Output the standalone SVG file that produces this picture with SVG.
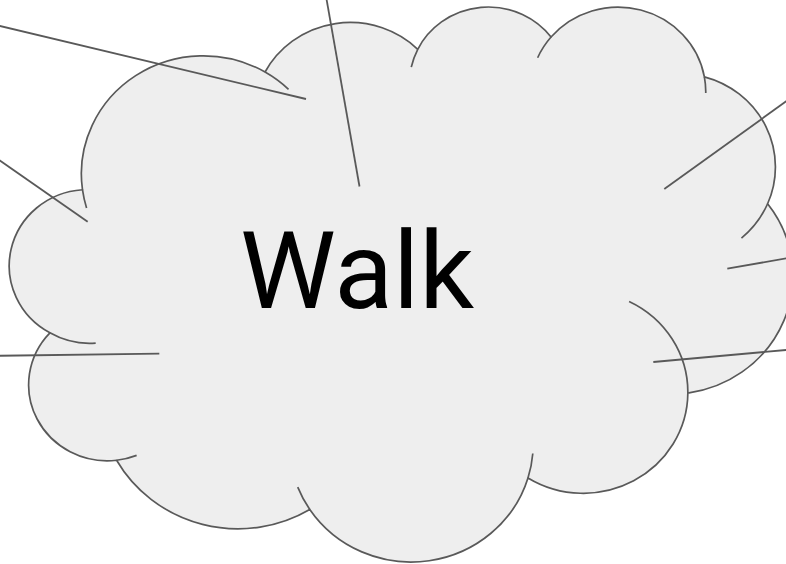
<svg xmlns="http://www.w3.org/2000/svg" width="786" height="564" viewBox="0 0 786 564">
  <style>
    .cloud { fill: #eeeeee; stroke: #595959; stroke-width: 1.7; vector-effect: non-scaling-stroke; stroke-linejoin: round; }
    .inner { fill: none; stroke: #595959; stroke-width: 1.7; vector-effect: non-scaling-stroke; }
    .conn { stroke: #595959; stroke-width: 1.8; fill: none; }
    .label { font-family: Roboto, "Liberation Sans", sans-serif; font-size: 108px; fill: #000000; }
  </style>
  <rect width="786" height="564" fill="#ffffff"/>
  <g id="node-walk">
    <g transform="translate(12,5.2) scale(0.018069,0.012842)">
      <path class="cloud" d="M 3900 14370 A 6753 9190 0 0 1 14005 5202 A 5333 7267 0 0 1 22456 3432 A 4365 5945 0 0 1 29833 2481 A 4857 6595 0 0 1 38318 5576 A 5333 7273 0 0 1 41818 15461 A 6775 9220 0 0 1 37404 30204 A 5785 7867 0 0 1 28556 36814 A 6752 9215 0 0 1 16480 39265 A 7720 10543 0 0 1 5789 35434 A 4360 5918 0 0 1 2098 25512 A 4345 5945 0 0 1 3900 14370 Z"/>
      <path class="inner" d="M 4631 26309 A 4345 5945 0 0 1 2098 25512 M 6897 35053 A 4360 5918 0 0 1 5789 35434 M 16480 39265 A 6752 9215 0 0 1 15813 37525 M 28823 34905 A 6752 9215 0 0 1 28556 36814 M 34153 23069 A 5785 7867 0 0 1 37404 30204 M 41818 15461 A 5333 7273 0 0 1 40371 18136 M 38318 5576 A 4857 6595 0 0 1 38395 6840 M 29091 4092 A 4857 6595 0 0 1 29833 2481 M 22097 4822 A 4365 5945 0 0 1 22456 3432 M 14005 5202 A 6753 9190 0 0 1 15305 6551 M 4127 15789 A 6753 9190 0 0 1 3900 14370"/>
    </g>
    <text class="label" x="357" y="308" text-anchor="middle">Walk</text>
  </g>
  <g id="connectors">
    <line class="conn" x1="-2" y1="25.5" x2="306" y2="99"/>
    <line class="conn" x1="326.5" y1="-1" x2="359.5" y2="186.5"/>
    <line class="conn" x1="-2" y1="159.3" x2="87.7" y2="221.7"/>
    <line class="conn" x1="-2" y1="355.8" x2="159.3" y2="353.7"/>
    <line class="conn" x1="788" y1="100" x2="664.3" y2="189"/>
    <line class="conn" x1="788" y1="258" x2="727.3" y2="268.7"/>
    <line class="conn" x1="788" y1="349.8" x2="653.3" y2="362"/>
  </g>
</svg>
